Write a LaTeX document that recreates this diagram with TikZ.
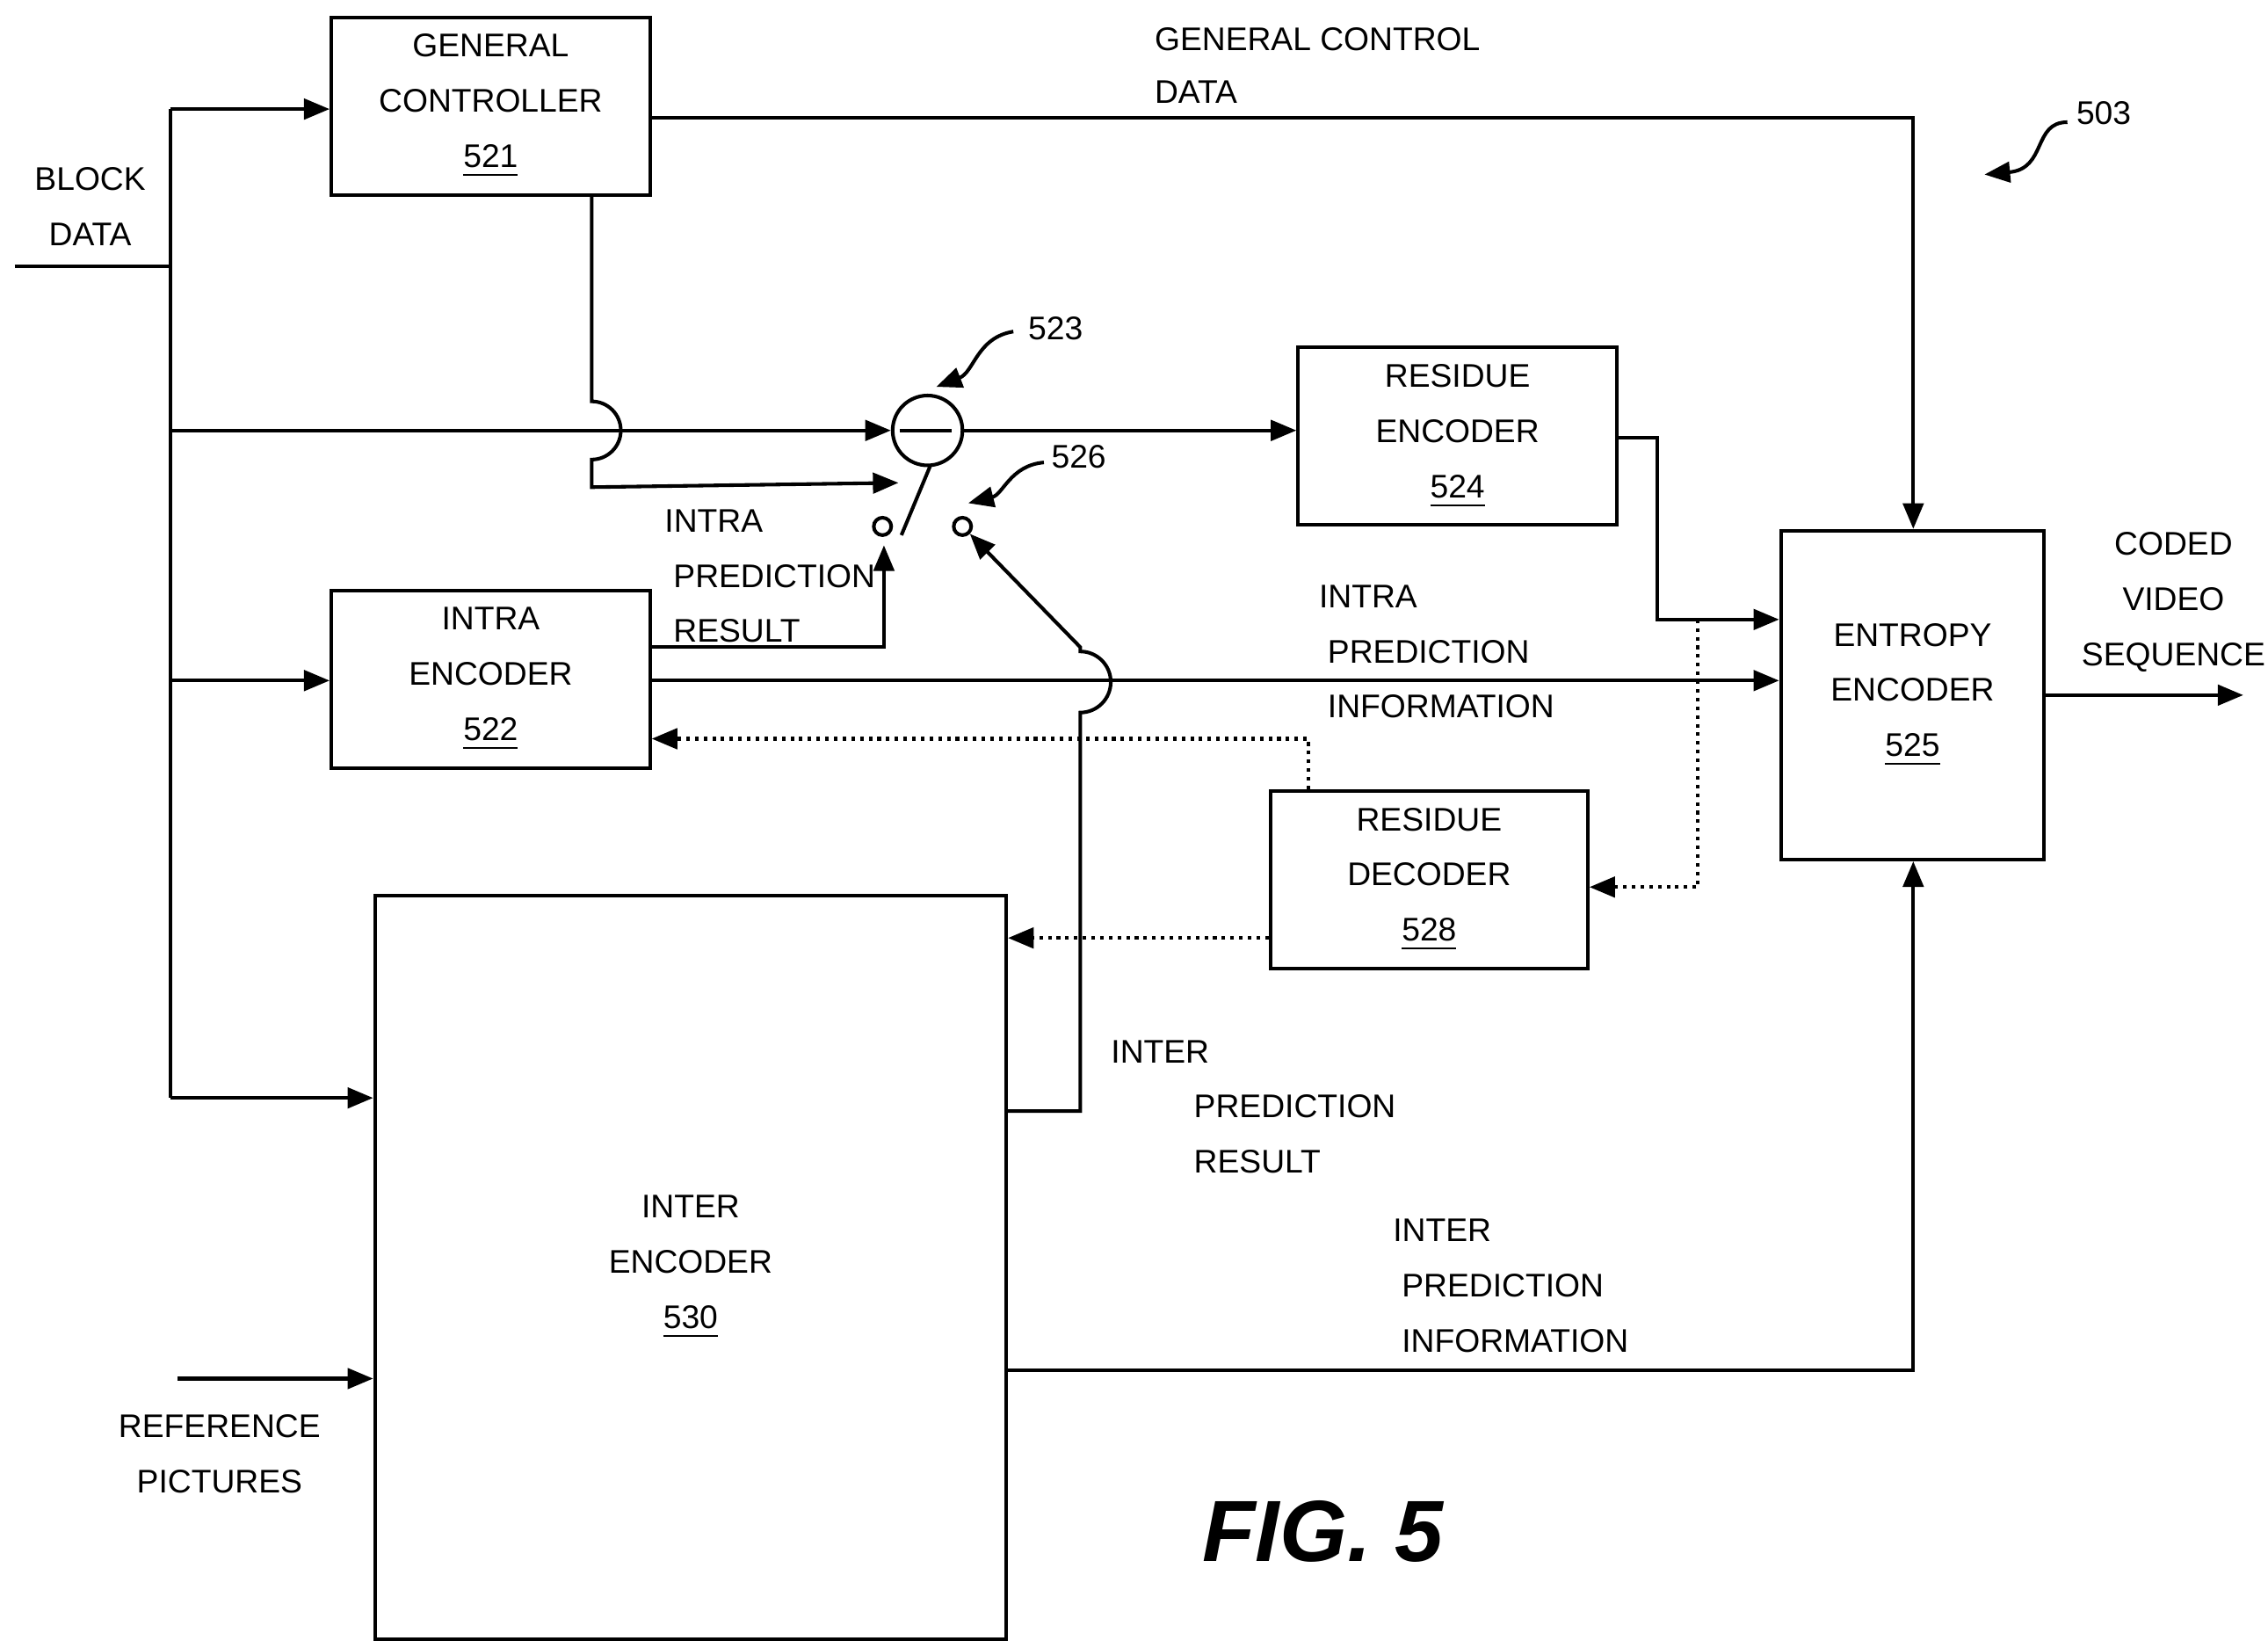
\documentclass[tikz,border=0pt]{standalone}
\usepackage{fontspec}
\setmainfont{Liberation Sans}
\usetikzlibrary{arrows.meta}
\begin{document}
\begin{tikzpicture}[x=0.01cm,y=-0.01cm,line width=0.7pt,
    >={Triangle[length=5pt,width=4pt]},
    every node/.style={font=\fontsize{6.4}{10.8}\selectfont},
    box/.style={draw,align=center,inner sep=0pt},
    lbl/.style={anchor=west,inner sep=0pt},
    fb/.style={densely dotted}]

    \useasboundingbox (0,0) rectangle (1560,1133);

    %BLOCKS
    \node[box,minimum width=2.19cm,minimum height=1.22cm] (gc) at (337.5,73) {GENERAL\\CONTROLLER\\\underline{521}};
    \node[box,minimum width=2.19cm,minimum height=1.22cm] (intra) at (337.5,467) {INTRA\\ENCODER\\\underline{522}};
    \node[box,minimum width=4.34cm,minimum height=5.11cm] (inter) at (475,871.5) {INTER\\ENCODER\\\underline{530}};
    \node[box,minimum width=2.19cm,minimum height=1.22cm] (resenc) at (1002.5,300) {RESIDUE\\ENCODER\\\underline{524}};
    \node[box,minimum width=2.18cm,minimum height=1.22cm] (resdec) at (983,605) {RESIDUE\\DECODER\\\underline{528}};
    \node[box,minimum width=1.81cm,minimum height=2.26cm] (entropy) at (1315.5,478) {ENTROPY\\ENCODER\\\underline{525}};
    \node[draw,circle,minimum size=0.48cm,inner sep=0pt] (sub) at (638,296) {};
    \draw (sub.west)++(6,0) -- ++(36,0);

    %SWITCH 526
    \node[draw,circle,minimum size=0.12cm,inner sep=0pt] (sw1) at (607,362) {};
    \node[draw,circle,minimum size=0.12cm,inner sep=0pt] (sw2) at (662,362) {};
    \coordinate (pivot) at (620,368);
    \draw (pivot) -- (640,320);

    %BLOCK DATA
    \coordinate (bd) at (117,183);
    \draw (10,183) -- (bd);
    \draw (117,75) -- (117,755);
    \draw[->] (117,75) -- (gc.west |- 0,75);
    \draw[->] (117,296) -- (sub.west);
    \draw[->] (117,468) -- (intra.west |- 0,468);
    \draw[->] (117,755) -- (inter.west |- 0,755);
    \draw[->] (122,948) -- (inter.west |- 0,948);

    %CONTROL
    \draw[->] (gc.south -| 407,0) -- (407,276) arc[start angle=90,end angle=-90,radius=0.2cm] -- (407,335) -- (618,332);
    \draw[->] (gc.east |- 0,81) -- (1316,81) -- (entropy.north -| 1316,0);

    %PREDICTION
    \draw[->] (intra.east |- 0,445) -- (608,445) -- (608,375);
    \draw[->] (inter.east |- 0,764) -- (743,764) -- (743,490) arc[start angle=-90,end angle=90,radius=0.21cm] -- (743,445) -- (sw2.south east);
    \draw[->] (intra.east |- 0,468) -- (entropy.west |- 0,468);
    \draw[->] (inter.east |- 0,942) -- (1316,942) -- (entropy.south -| 1316,0);
    \draw[->] (sub.east) -- (resenc.west |- sub.east);
    \draw[->] (resenc.east |- 0,301) -- (1140,301) -- (1140,426) -- (entropy.west |- 0,426);
    \draw[->] (entropy.east) -- (1543,478);

    %RECONSTRUCTION (dotted)
    \draw[fb,->] (1168,426) -- (1168,610) -- (resdec.east |- 0,610);
    \draw[fb,->] (resdec.west |- 0,645) -- (inter.east |- 0,645);
    \draw[fb,->] (resdec.north -| 900,0) -- (900,508) -- (intra.east |- 0,508);

    %LEADERS
    \draw[->] (697,228) .. controls (672,232) and (670,256) .. (644,266);
    \draw[->] (718,318) .. controls (695,320) and (690,340) .. (666,346);
    \draw[->] (1422,84) .. controls (1398,84) and (1408,116) .. (1365,120);

    %LABELS
    \node[align=center] (lbd) at (62,142) {BLOCK\\DATA};
    \node[lbl] (lgcd1) at (793,27) {GENERAL CONTROL};
    \node[lbl] (lgcd2) at (793,63) {DATA};
    \node[lbl] (l523) at (706,226) {523};
    \node[lbl] (l526) at (722,314) {526};
    \node[lbl] (l503) at (1427,78) {503};
    \node[lbl] (lir1) at (456,358) {INTRA};
    \node[lbl] (lir2) at (462,396) {PREDICTION};
    \node[lbl] (lir3) at (462,434) {RESULT};
    \node[lbl] (lii1) at (906,410) {INTRA};
    \node[lbl] (lii2) at (912,448) {PREDICTION};
    \node[lbl] (lii3) at (912,486) {INFORMATION};
    \node[lbl] (ler1) at (763,723) {INTER};
    \node[lbl] (ler2) at (820,761) {PREDICTION};
    \node[lbl] (ler3) at (820,799) {RESULT};
    \node[lbl] (lei1) at (957,846) {INTER};
    \node[lbl] (lei2) at (963,884) {PREDICTION};
    \node[lbl] (lei3) at (963,922) {INFORMATION};
    \node[align=center] (lcvs) at (1495,414) {CODED\\VIDEO\\SEQUENCE};
    \node[align=center] (lref) at (151,1000) {REFERENCE\\PICTURES};
    \node[font=\fontsize{17}{20}\selectfont\bfseries\itshape] (fig) at (910,1053) {FIG. 5};
\end{tikzpicture}
\end{document}
